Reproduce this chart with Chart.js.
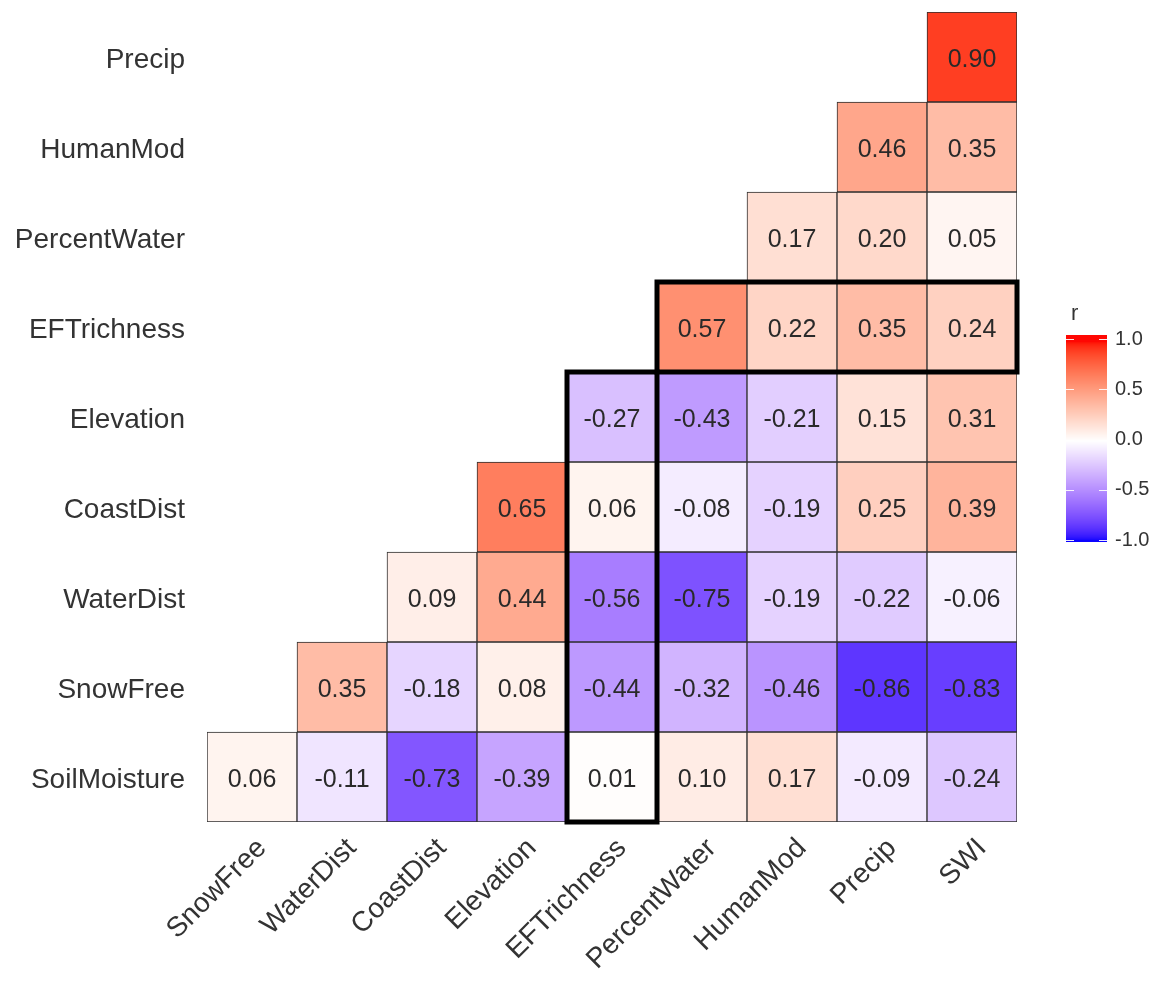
<!DOCTYPE html>
<html>
<head>
<meta charset="utf-8">
<title>Correlation matrix</title>
<script src="https://cdn.jsdelivr.net/npm/chart.js@4.4.1/dist/chart.umd.min.js"></script>
<style>
  html, body { margin: 0; padding: 0; background: #ffffff; }
  #wrap { position: relative; width: 1164px; height: 988px; }
</style>
</head>
<body>
<div id="wrap"><canvas id="chart"></canvas></div>
<script>
// Variables along the bottom (columns) and down the side (rows, top to bottom)
const columns = ['SnowFree', 'WaterDist', 'CoastDist', 'Elevation', 'EFTrichness',
                 'PercentWater', 'HumanMod', 'Precip', 'SWI'];
const rows = ['Precip', 'HumanMod', 'PercentWater', 'EFTrichness', 'Elevation',
              'CoastDist', 'WaterDist', 'SnowFree', 'SoilMoisture'];

// Pearson r for each row, lower triangle only (values end at the SWI column)
const rPrecip       = [0.90];
const rHumanMod     = [0.46, 0.35];
const rPercentWater = [0.17, 0.20, 0.05];
const rEFTrichness  = [0.57, 0.22, 0.35, 0.24];
const rElevation    = [-0.27, -0.43, -0.21, 0.15, 0.31];
const rCoastDist    = [0.65, 0.06, -0.08, -0.19, 0.25, 0.39];
const rWaterDist    = [0.09, 0.44, -0.56, -0.75, -0.19, -0.22, -0.06];
const rSnowFree     = [0.35, -0.18, 0.08, -0.44, -0.32, -0.46, -0.86, -0.83];
const rSoilMoisture = [0.06, -0.11, -0.73, -0.39, 0.01, 0.10, 0.17, -0.09, -0.24];

const rowValues = [rPrecip, rHumanMod, rPercentWater, rEFTrichness, rElevation,
                   rCoastDist, rWaterDist, rSnowFree, rSoilMoisture];

// Outlined groups: the EFTrichness row and the EFTrichness column
const highlightRow = { row: 'EFTrichness', from: 'PercentWater', to: 'SWI' };
const highlightCol = { col: 'EFTrichness', from: 'Elevation', to: 'SoilMoisture' };

// Colour bar scale
const legendTicks = [1.0, 0.5, 0.0, -0.5, -1.0];

// ---- diverging blue / white / red palette interpolated in CIE Lab ----
function toLin(c) { c /= 255; return c <= 0.04045 ? c / 12.92 : Math.pow((c + 0.055) / 1.055, 2.4); }
function fromLin(c) {
  c = c <= 0.0031308 ? 12.92 * c : 1.055 * Math.pow(c, 1 / 2.4) - 0.055;
  return Math.round(Math.min(1, Math.max(0, c)) * 255);
}
function rgbToLab(rgb) {
  const r = toLin(rgb[0]), g = toLin(rgb[1]), b = toLin(rgb[2]);
  const X = (0.4124564 * r + 0.3575761 * g + 0.1804375 * b) / 0.95047;
  const Y = (0.2126729 * r + 0.7151522 * g + 0.0721750 * b);
  const Z = (0.0193339 * r + 0.1191920 * g + 0.9503041 * b) / 1.08883;
  const f = t => t > 0.008856 ? Math.cbrt(t) : 7.787 * t + 16 / 116;
  const fx = f(X), fy = f(Y), fz = f(Z);
  return [116 * fy - 16, 500 * (fx - fy), 200 * (fy - fz)];
}
function labToRgb(lab) {
  const fy = (lab[0] + 16) / 116, fx = fy + lab[1] / 500, fz = fy - lab[2] / 200;
  const inv = t => (t * t * t > 0.008856) ? t * t * t : (t - 16 / 116) / 7.787;
  const X = inv(fx) * 0.95047, Y = inv(fy), Z = inv(fz) * 1.08883;
  const r = 3.2404542 * X - 1.5371385 * Y - 0.4985314 * Z;
  const g = -0.9692660 * X + 1.8760108 * Y + 0.0415560 * Z;
  const b = 0.0556434 * X - 0.2040259 * Y + 1.0572252 * Z;
  return [fromLin(r), fromLin(g), fromLin(b)];
}
const LAB_LOW = rgbToLab([0, 0, 255]);
const LAB_MID = rgbToLab([255, 255, 255]);
const LAB_HIGH = rgbToLab([255, 0, 0]);
function corrColor(v) {
  const end = v >= 0 ? LAB_HIGH : LAB_LOW;
  const t = Math.min(1, Math.abs(v));
  const lab = LAB_MID.map((m, k) => m + (end[k] - m) * t);
  const c = labToRgb(lab);
  return 'rgb(' + c[0] + ',' + c[1] + ',' + c[2] + ')';
}

// ---- full matrix from the row arrays ----
function cellValue(i, j) {
  const arr = rowValues[i];
  const offset = columns.length - arr.length;
  return j >= offset ? arr[j - offset] : null;
}

const nRows = rows.length;
const datasets = rows.map((name, i) => ({
  label: name,
  data: columns.map((c, j) => cellValue(i, j) === null ? null : [nRows - 1 - i, nRows - i]),
  backgroundColor: columns.map((c, j) => {
    const v = cellValue(i, j);
    return v === null ? 'rgba(0,0,0,0)' : corrColor(v);
  }),
  borderColor: '#2e2e2e',
  borderWidth: 1,
  borderSkipped: false,
  grouped: false,
  barPercentage: 1.0,
  categoryPercentage: 1.0
}));

const FONT = '"Liberation Sans", Arial, Helvetica, sans-serif';

// Writes r inside each cell
const cellLabels = {
  id: 'cellLabels',
  afterDatasetsDraw(chart) {
    const ctx = chart.ctx;
    ctx.save();
    ctx.font = '25px ' + FONT;
    ctx.fillStyle = '#2a2a2a';
    ctx.textAlign = 'center';
    ctx.textBaseline = 'middle';
    chart.data.datasets.forEach((ds, i) => {
      const meta = chart.getDatasetMeta(i);
      meta.data.forEach((el, j) => {
        const v = cellValue(i, j);
        if (v === null) return;
        const p = el.getProps(['x', 'y', 'base'], true);
        ctx.fillText(v.toFixed(2), p.x, (p.y + p.base) / 2 + 3);
      });
    });
    ctx.restore();
  }
};

// Thick outlines around the highlighted row and column
const highlightBoxes = {
  id: 'highlightBoxes',
  afterDatasetsDraw(chart) {
    const xs = chart.scales.x, ys = chart.scales.y;
    const ctx = chart.ctx;
    const colIdx = n => columns.indexOf(n);
    const rowBottom = n => nRows - 1 - rows.indexOf(n);
    ctx.save();
    ctx.strokeStyle = '#000000';
    ctx.lineWidth = 5;
    ctx.lineJoin = 'miter';
    // row box
    {
      const r = rowBottom(highlightRow.row);
      const x0 = xs.getPixelForValue(colIdx(highlightRow.from) - 0.5);
      const x1 = xs.getPixelForValue(colIdx(highlightRow.to) + 0.5);
      const y0 = ys.getPixelForValue(r + 1), y1 = ys.getPixelForValue(r);
      ctx.strokeRect(x0, y0, x1 - x0, y1 - y0);
    }
    // column box
    {
      const c = colIdx(highlightCol.col);
      const x0 = xs.getPixelForValue(c - 0.5), x1 = xs.getPixelForValue(c + 0.5);
      const y0 = ys.getPixelForValue(rowBottom(highlightCol.from) + 1);
      const y1 = ys.getPixelForValue(rowBottom(highlightCol.to));
      ctx.strokeRect(x0, y0, x1 - x0, y1 - y0);
    }
    ctx.restore();
  }
};

// Colour bar legend for r
const colorBar = {
  id: 'colorBar',
  afterDraw(chart) {
    const ctx = chart.ctx;
    const left = 1066, width = 41;
    const yTop = 339, yBottom = 540;              // pixel rows for r = 1 and r = -1
    const yOf = v => yBottom - (v + 1) / 2 * (yBottom - yTop);
    ctx.save();
    const steps = 200;
    for (let s = 0; s < steps; s++) {
      const v0 = -1 + 2 * s / steps, v1 = -1 + 2 * (s + 1) / steps;
      ctx.fillStyle = corrColor((v0 + v1) / 2);
      const ya = yOf(v1) - 4 * (s === steps - 1 ? 1 : 0);
      const yb = yOf(v0) + 1 * (s === 0 ? 1 : 0);
      ctx.fillRect(left, Math.floor(ya), width, Math.ceil(yb - ya) + 1);
    }
    // tick marks
    ctx.strokeStyle = 'rgba(255,255,255,0.9)';
    ctx.lineWidth = 1;
    legendTicks.forEach(v => {
      const y = Math.round(yOf(v)) + 0.5;
      ctx.beginPath();
      ctx.moveTo(left, y); ctx.lineTo(left + 8, y);
      ctx.moveTo(left + width - 8, y); ctx.lineTo(left + width, y);
      ctx.stroke();
    });
    // tick labels
    ctx.fillStyle = '#333333';
    ctx.font = '20px ' + FONT;
    ctx.textAlign = 'left';
    ctx.textBaseline = 'middle';
    legendTicks.forEach(v => ctx.fillText(v.toFixed(1), left + width + 8, yOf(v)));
    // title
    ctx.font = '22px ' + FONT;
    ctx.textBaseline = 'alphabetic';
    ctx.fillText('r', left + 5, 320);
    ctx.restore();
  }
};

new Chart(document.getElementById('chart'), {
  type: 'bar',
  data: { labels: columns, datasets: datasets },
  options: {
    responsive: true,
    maintainAspectRatio: false,
    animation: false,
    events: [],
    layout: { padding: { top: 12, right: 147, bottom: 0, left: 0 } },
    plugins: { legend: { display: false }, tooltip: { enabled: false } },
    scales: {
      x: {
        type: 'category',
        offset: true,
        grid: { display: false, drawTicks: false },
        border: { display: false },
        ticks: {
          autoSkip: false,
          minRotation: 45,
          maxRotation: 45,
          padding: 10,
          labelOffset: 10,
          color: '#333333',
          font: { family: FONT, size: 28 }
        },
        afterFit(scale) {
          scale.height = 166;
          scale.paddingLeft = 0;
          scale.paddingRight = 0;
        }
      },
      y: {
        type: 'linear',
        min: 0,
        max: nRows,
        grid: { display: false, drawTicks: false },
        border: { display: false },
        afterBuildTicks(scale) {
          scale.ticks = rows.map((r, i) => ({ value: nRows - i - 0.5 }));
        },
        ticks: {
          padding: 22,
          labelOffset: 3,
          color: '#333333',
          font: { family: FONT, size: 28 },
          callback: v => rows[nRows - 1 - Math.floor(v)]
        },
        afterFit(scale) {
          scale.width = 207;
          scale.paddingTop = 0;
          scale.paddingBottom = 0;
        }
      }
    }
  },
  plugins: [cellLabels, highlightBoxes, colorBar]
});
</script>
</body>
</html>
